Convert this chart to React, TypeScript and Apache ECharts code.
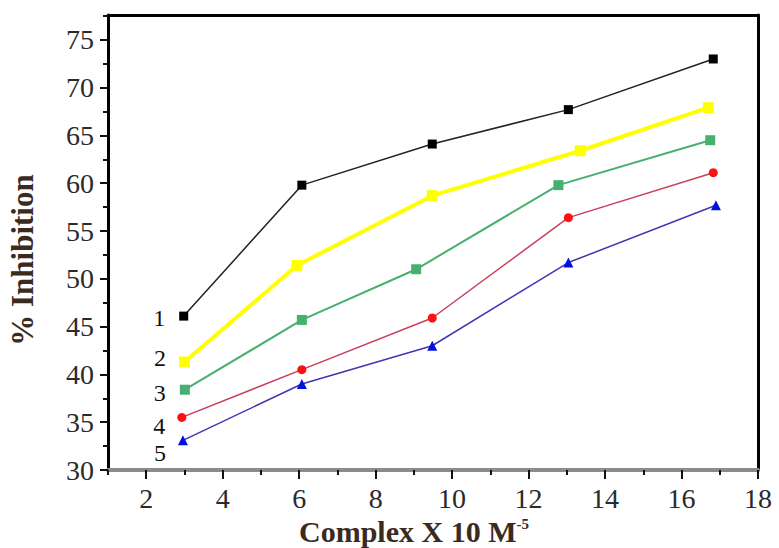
import React, { useEffect, useRef } from "react";
import * as echarts from "echarts";

const xMajorTicks = [2, 4, 6, 8, 10, 12, 14, 16, 18];
const xMinorTicks = [1, 3, 5, 7, 9, 11, 13, 15, 17];
const yMajorTicks = [30, 35, 40, 45, 50, 55, 60, 65, 70, 75];
const yMinorTicks = [32.5, 37.5, 42.5, 47.5, 52.5, 57.5, 62.5, 67.5, 72.5, 77.5];

const seriesNames = ["1", "2", "3", "4", "5"];

const x1 = [2.98, 6.07, 9.48, 13.04, 16.83];
const y1 = [46.1, 59.8, 64.1, 67.7, 73.0];
const x2 = [3.0, 5.94, 9.48, 13.35, 16.7];
const y2 = [41.3, 51.4, 58.7, 63.4, 67.9];
const x3 = [3.01, 6.07, 9.06, 12.78, 16.75];
const y3 = [38.4, 45.7, 51.0, 59.8, 64.5];
const x4 = [2.93, 6.07, 9.48, 13.04, 16.83];
const y4 = [35.5, 40.5, 45.9, 56.4, 61.1];
const x5 = [2.96, 6.07, 9.48, 13.04, 16.9];
const y5 = [33.1, 39.0, 43.0, 51.7, 57.7];

const FONT = "'Liberation Serif', 'Times New Roman', serif";

function buildData(xs: number[], ys: number[], name: string, dist: number, dy: number) {
  return xs.map((x, i) =>
    i === 0
      ? {
          value: [x, ys[i]],
          label: {
            show: true,
            formatter: name,
            position: "left",
            distance: dist,
            offset: [0, dy],
            fontFamily: FONT,
            fontSize: 24,
            color: "#111",
          },
        }
      : { value: [x, ys[i]] }
  );
}

export default function App() {
  const ref = useRef<HTMLDivElement>(null);
  useEffect(() => {
    if (!ref.current) return;
    const chart = echarts.init(ref.current, null, { renderer: "svg" });
    const grid = {
      left: 108,
      right: 21,
      top: 15,
      bottom: 78,
      containLabel: false,
      outerBoundsMode: "none",
    };
    const option: any = {
      animation: false,
      backgroundColor: "#fff",
      grid,
      xAxis: [
        {
          type: "value",
          position: "bottom",
          min: 1,
          max: 18,
          axisLine: { show: true, lineStyle: { color: "#8a8a8a", width: 4 } },
          axisTick: {
            show: true,
            customValues: xMajorTicks,
            length: 9,
            lineStyle: { color: "#111", width: 2 },
          },
          axisLabel: {
            customValues: xMajorTicks,
            fontFamily: FONT,
            fontSize: 28,
            color: "#2a2a2a",
            margin: 14,
          },
          splitLine: { show: false },
          name: "Complex X 10 M{sup|-5}",
          nameLocation: "middle",
          nameGap: 46,
          nameTextStyle: {
            fontFamily: FONT,
            fontSize: 30,
            fontWeight: "bold",
            color: "#3b2a1e",
            padding: [0, 38, 0, 0],
            rich: {
              sup: {
                fontFamily: FONT,
                fontSize: 15,
                fontWeight: "bold",
                color: "#3b2a1e",
                verticalAlign: "top",
                padding: [0, 0, 14, 0],
              },
            },
          },
        },
        {
          type: "value",
          position: "bottom",
          min: 1,
          max: 18,
          axisLine: { show: false },
          axisTick: {
            show: true,
            customValues: xMinorTicks,
            length: 5,
            lineStyle: { color: "#111", width: 2 },
          },
          axisLabel: { show: false },
          splitLine: { show: false },
        },
        {
          type: "value",
          position: "top",
          min: 1,
          max: 18,
          axisLine: { show: true, lineStyle: { color: "#000", width: 3 } },
          axisTick: { show: false },
          axisLabel: { show: false },
          splitLine: { show: false },
        },
      ],
      yAxis: [
        {
          type: "value",
          position: "left",
          min: 30,
          max: 77.6,
          axisLine: { show: true, lineStyle: { color: "#000", width: 3 } },
          axisTick: {
            show: true,
            customValues: yMajorTicks,
            length: 8,
            lineStyle: { color: "#111", width: 2 },
          },
          axisLabel: {
            customValues: yMajorTicks,
            fontFamily: FONT,
            fontSize: 28,
            color: "#2a2a2a",
            margin: 14,
          },
          splitLine: { show: false },
          name: "% Inhibition",
          nameLocation: "middle",
          nameGap: 70,
          nameTextStyle: {
            fontFamily: FONT,
            fontSize: 31,
            fontWeight: "bold",
            color: "#3b2a1e",
            padding: [0, 35, 0, 0],
          },
        },
        {
          type: "value",
          position: "left",
          min: 30,
          max: 77.6,
          axisLine: { show: false },
          axisTick: {
            show: true,
            customValues: yMinorTicks,
            length: 5,
            lineStyle: { color: "#111", width: 2 },
          },
          axisLabel: { show: false },
          splitLine: { show: false },
        },
        {
          type: "value",
          position: "right",
          min: 30,
          max: 77.6,
          axisLine: { show: true, lineStyle: { color: "#000", width: 3 } },
          axisTick: { show: false },
          axisLabel: { show: false },
          splitLine: { show: false },
        },
      ],
      series: [
        {
          name: seriesNames[0],
          type: "line",
          data: buildData(x1, y1, seriesNames[0], 14, 2),
          symbol: "rect",
          symbolSize: 9,
          lineStyle: { color: "#222", width: 1.5 },
          itemStyle: { color: "#000" },
        },
        {
          name: seriesNames[1],
          type: "line",
          data: buildData(x2, y2, seriesNames[1], 13, -4),
          symbol: "rect",
          symbolSize: 11,
          lineStyle: { color: "#ffff00", width: 4 },
          itemStyle: { color: "#ffff00" },
        },
        {
          name: seriesNames[2],
          type: "line",
          data: buildData(x3, y3, seriesNames[2], 14, 3),
          symbol: "rect",
          symbolSize: 10,
          lineStyle: { color: "#46b06e", width: 2 },
          itemStyle: { color: "#46b06e" },
        },
        {
          name: seriesNames[3],
          type: "line",
          data: buildData(x4, y4, seriesNames[3], 12, 9),
          symbol: "circle",
          symbolSize: 9,
          lineStyle: { color: "#c8405c", width: 1.5 },
          itemStyle: { color: "#ff1010" },
        },
        {
          name: seriesNames[4],
          type: "line",
          data: buildData(x5, y5, seriesNames[4], 12, 13),
          symbol: "triangle",
          symbolSize: 10,
          lineStyle: { color: "#4036b0", width: 1.5 },
          itemStyle: { color: "#0010e0" },
        },
      ],
    };
    chart.setOption(option);
    return () => chart.dispose();
  }, []);
  return (
    <div
      ref={ref}
      style={{ position: "absolute", left: 0, top: 0, width: 779, height: 548 }}
    />
  );
}
